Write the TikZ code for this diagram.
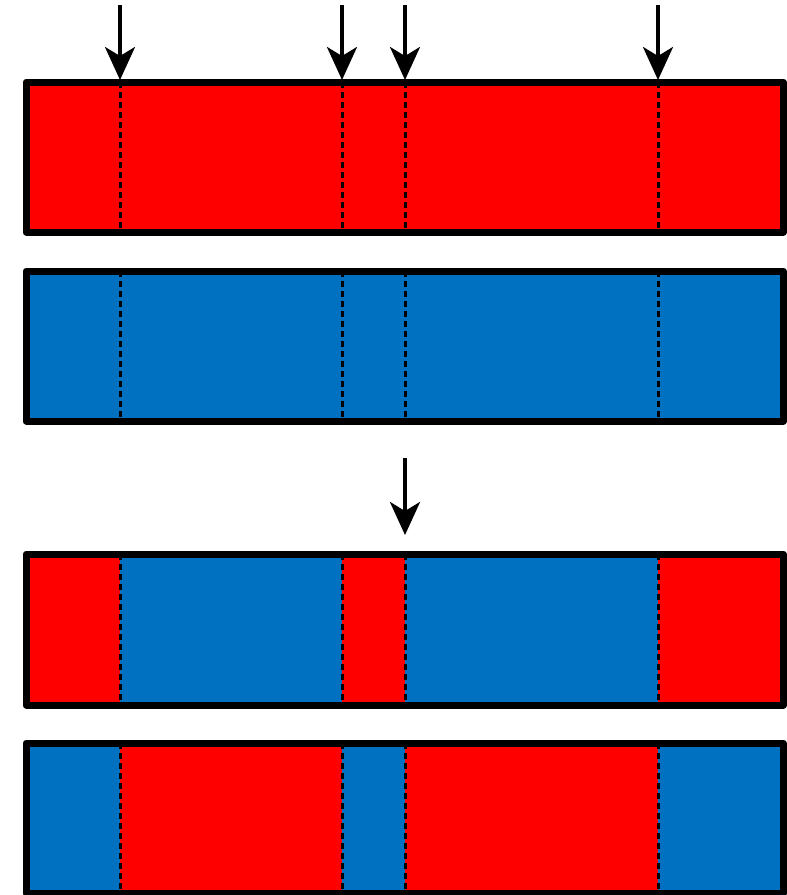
\documentclass[tikz,border=0pt]{standalone}
\usetikzlibrary{arrows.meta}
\definecolor{cred}{HTML}{FF0000}
\definecolor{cblue}{HTML}{0070C0}
\tikzset{
  barframe/.style={draw=black, line width=7pt, line join=round},
  cutline/.style={draw=black, line width=3pt, dash pattern=on 5.5pt off 4.5pt},
  downarrow/.style={draw=black, line width=3.5pt, -{Stealth[length=33pt,width=30pt,inset=9pt]}},
}
\begin{document}
\begin{tikzpicture}[x=1pt,y=-1pt]
\useasboundingbox (0,0) rectangle (787,895);
% x boundaries
\def\xa{26}\def\xb{120}\def\xc{342}\def\xd{405}\def\xe{658}\def\xf{783.5}
% bar 1 (red)
\fill[cred] (\xa,82) rectangle (\xf,232);
% bar 2 (blue)
\fill[cblue] (\xa,271) rectangle (\xf,421);
% bar 3
\fill[cred]  (\xa,554) rectangle (\xb,705);
\fill[cblue] (\xb,554) rectangle (\xc,705);
\fill[cred]  (\xc,554) rectangle (\xd,705);
\fill[cblue] (\xd,554) rectangle (\xe,705);
\fill[cred]  (\xe,554) rectangle (\xf,705);
% bar 4
\fill[cblue] (\xa,743) rectangle (\xb,893);
\fill[cred]  (\xb,743) rectangle (\xc,893);
\fill[cblue] (\xc,743) rectangle (\xd,893);
\fill[cred]  (\xd,743) rectangle (\xe,893);
\fill[cblue] (\xe,743) rectangle (\xf,893);
% dashed cut lines
\foreach \x in {\xb,\xc,\xd,\xe}{
  \foreach \ya/\yb in {82/232, 271/421, 554/705, 743/893}{
    \draw[cutline] (\x,\ya) -- (\x,\yb);
  }
}
% frames
\foreach \ya/\yb in {82/232, 271/421, 554/705, 743/893}{
  \draw[barframe] (\xa,\ya) rectangle (\xf,\yb);
}
% top arrows
\foreach \x/\n in {\xb/a,\xc/b,\xd/c,\xe/d}{
  \coordinate (s\n) at (\x,5);
  \coordinate (t\n) at (\x,80);
  \draw[downarrow] (s\n) -- (t\n);
}
% middle arrow
\coordinate (ms) at (\xd,458);
\coordinate (mt) at (\xd,535);
\draw[downarrow] (ms) -- (mt);
\end{tikzpicture}
\end{document}
